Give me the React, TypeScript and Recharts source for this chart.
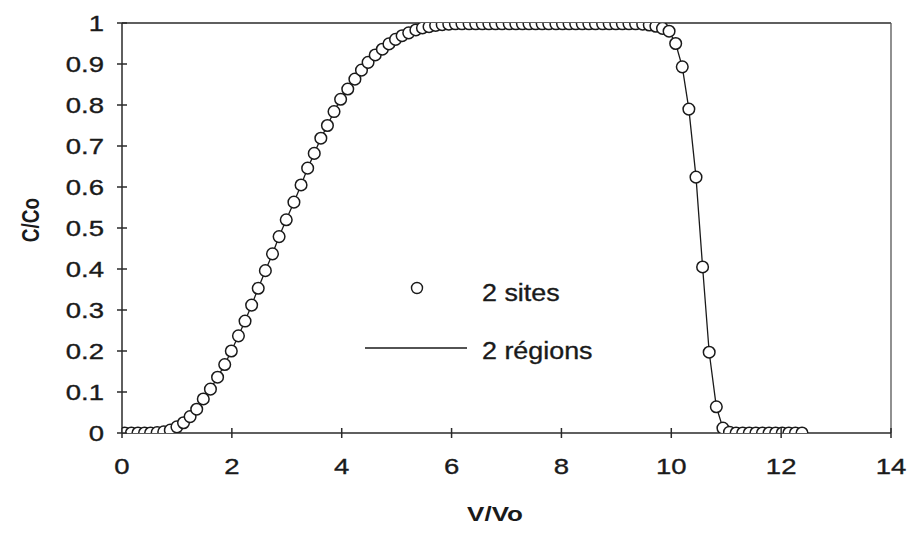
import {
  ComposedChart,
  Line,
  Scatter,
  XAxis,
  YAxis,
  ReferenceLine,
  Legend,
} from 'recharts';

// V/Vo of each sample point
const vVo = [
  0.05, 0.17, 0.29, 0.41, 0.52, 0.64, 0.76, 0.88,
  1.0, 1.12, 1.24, 1.36, 1.48, 1.61, 1.74, 1.87, 1.99,
  2.12, 2.24, 2.36, 2.48, 2.61, 2.74, 2.86, 2.99,
  3.13, 3.26, 3.38, 3.5, 3.62, 3.74, 3.86, 3.98,
  4.11, 4.24, 4.36, 4.48, 4.61, 4.74, 4.86, 4.98,
  5.1, 5.22, 5.35, 5.47, 5.59, 5.71, 5.83,
  5.95, 6.07, 6.19, 6.32, 6.44, 6.56, 6.68, 6.8, 6.92,
  7.05, 7.17, 7.29, 7.41, 7.53, 7.65, 7.77, 7.9,
  8.02, 8.14, 8.26, 8.38, 8.5, 8.62, 8.75, 8.87, 8.99,
  9.11, 9.23, 9.35, 9.48, 9.6, 9.72, 9.84, 9.96,
  10.08, 10.2, 10.32, 10.45, 10.57, 10.69, 10.82, 10.94, 11.06,
  11.18, 11.3, 11.42, 11.54, 11.66, 11.78, 11.9, 12.02, 12.14, 12.26, 12.38,
];

// C/Co, "2 sites" (circles)
const sitesCCo = [
  0, 0, 0, 0, 0, 0.001, 0.003, 0.007,
  0.015, 0.025, 0.04, 0.058, 0.083, 0.107, 0.136, 0.167, 0.2,
  0.237, 0.273, 0.312, 0.353, 0.396, 0.437, 0.479, 0.52,
  0.563, 0.605, 0.646, 0.682, 0.719, 0.75, 0.784, 0.814,
  0.839, 0.863, 0.885, 0.904, 0.922, 0.936, 0.949, 0.96,
  0.969, 0.976, 0.983, 0.988, 0.991, 0.994, 0.996,
  0.997, 0.998, 0.998, 0.998, 0.998, 0.998, 0.998, 0.998, 0.998,
  0.998, 0.998, 0.998, 0.998, 0.998, 0.998, 0.998, 0.998,
  0.998, 0.998, 0.998, 0.998, 0.998, 0.998, 0.998, 0.998, 0.998,
  0.998, 0.998, 0.998, 0.997, 0.995, 0.992, 0.987, 0.98,
  0.95, 0.893, 0.79, 0.624, 0.405, 0.197, 0.064, 0.012, 0.002,
  0, 0, 0, 0, 0, 0, 0, 0, 0, 0, 0,
];

// C/Co, "2 régions" model curve (goes through the same points)
const regionsCCo = sitesCCo;

const xTicks = [0, 2, 4, 6, 8, 10, 12, 14];
const yTicks = [0, 0.1, 0.2, 0.3, 0.4, 0.5, 0.6, 0.7, 0.8, 0.9, 1];

const SITES = '2 sites';
const REGIONS = '2 régions';

const sitesData = vVo.map((v, i) => ({ v, c: sitesCCo[i] }));
const regionsData = vVo.map((v, i) => ({ v, c: regionsCCo[i] }));

const FONT = '"Liberation Sans", Arial, Helvetica, sans-serif';
const INK = '#1a1a1a';
const AXIS = '#2a2a2a';
const SX = 1.25; // the scan is a bit wider than tall

const X_TICK_SIZE = 5;
const X_TICK_MARGIN = 20;
const Y_TICK_SIZE = 5;
const Y_TICK_MARGIN = 13;

function XTick(props: any) {
  const { x, y, payload } = props;
  const axisY = y - X_TICK_SIZE - X_TICK_MARGIN;
  return (
    <g>
      <line x1={x} x2={x} y1={axisY - 5} y2={axisY + 5} stroke={AXIS} strokeWidth={1.5} />
      <text
        transform={`translate(${x},${y}) scale(${SX},1)`}
        textAnchor="middle"
        dy="0.71em"
        fontSize={22}
        fontFamily={FONT}
        fill={INK}
        stroke={INK}
        strokeWidth={0.35}
      >
        {payload.value}
      </text>
    </g>
  );
}

function YTick(props: any) {
  const { x, y, payload } = props;
  const axisX = x + Y_TICK_SIZE + Y_TICK_MARGIN;
  return (
    <g>
      <line x1={axisX - 5} x2={axisX + 5} y1={y} y2={y} stroke={AXIS} strokeWidth={1.5} />
      <text
        transform={`translate(${x},${y}) scale(${SX},1)`}
        textAnchor="end"
        dy="0.36em"
        fontSize={22}
        fontFamily={FONT}
        fill={INK}
        stroke={INK}
        strokeWidth={0.35}
      >
        {payload.value}
      </text>
    </g>
  );
}

function XTitle() {
  return (
    <text
      transform={`translate(487,513) scale(1.3,1)`}
      textAnchor="middle"
      fontSize={20}
      fontWeight="bold"
      fontFamily={FONT}
      fill={INK}
    >
      V/Vo
    </text>
  );
}

function YTitle() {
  return (
    <text
      transform={`translate(22,212) scale(1.3,1) rotate(-90)`}
      textAnchor="middle"
      dy="0.36em"
      fontSize={19}
      fontWeight="bold"
      fontFamily={FONT}
      fill={INK}
    >
      C/Co
    </text>
  );
}

function SiteDot(props: any) {
  const { cx, cy } = props;
  return <circle cx={cx} cy={cy} r={5.8} fill="#fff" stroke={INK} strokeWidth={1.5} />;
}

function LegendBox() {
  return (
    <svg width={260} height={100} style={{ display: 'block', overflow: 'visible' }}>
      <circle cx={57} cy={18} r={5.5} fill="#fff" stroke={INK} strokeWidth={1.4} />
      <text
        transform="translate(122,31) scale(1.12,1)"
        fontSize={24}
        fontFamily={FONT}
        fill={INK}
        stroke={INK}
        strokeWidth={0.35}
      >
        {SITES}
      </text>
      <line x1={5} x2={107} y1={78} y2={78} stroke={INK} strokeWidth={1.4} />
      <text
        transform="translate(122,89) scale(1.12,1)"
        fontSize={24}
        fontFamily={FONT}
        fill={INK}
        stroke={INK}
        strokeWidth={0.35}
      >
        {REGIONS}
      </text>
    </svg>
  );
}

export default function App() {
  return (
    <div style={{ width: 900, height: 518 }}>
      <ComposedChart
        width={900}
        height={518}
        margin={{ top: 15, right: 17, left: 0, bottom: 0 }}
      >
        <XAxis
          type="number"
          dataKey="v"
          domain={[0, 14]}
          ticks={xTicks}
          interval={0}
          allowDataOverflow
          tick={XTick}
          tickLine={false}
          tickSize={X_TICK_SIZE}
          tickMargin={X_TICK_MARGIN}
          axisLine={{ stroke: AXIS, strokeWidth: 1.5 }}
          height={93}
          label={XTitle}
        />
        <YAxis
          type="number"
          domain={[0, 1]}
          ticks={yTicks}
          interval={0}
          allowDataOverflow
          tick={YTick}
          tickLine={false}
          tickSize={Y_TICK_SIZE}
          tickMargin={Y_TICK_MARGIN}
          axisLine={{ stroke: AXIS, strokeWidth: 1.5 }}
          width={114}
          label={YTitle}
        />
        <ReferenceLine y={1} stroke={AXIS} strokeWidth={1.3} />
        <ReferenceLine x={14} stroke="#555" strokeWidth={1.3} />
        <Line
          name={REGIONS}
          data={regionsData}
          dataKey="c"
          type="linear"
          stroke={INK}
          strokeWidth={1.3}
          dot={false}
          activeDot={false}
          isAnimationActive={false}
        />
        <Scatter
          name={SITES}
          data={sitesData}
          dataKey="c"
          shape={SiteDot}
          isAnimationActive={false}
        />
        <Legend
          layout="vertical"
          align="center"
          verticalAlign="middle"
          content={LegendBox}
          wrapperStyle={{ left: 352, top: 262, width: 260, height: 100 }}
        />
      </ComposedChart>
    </div>
  );
}
